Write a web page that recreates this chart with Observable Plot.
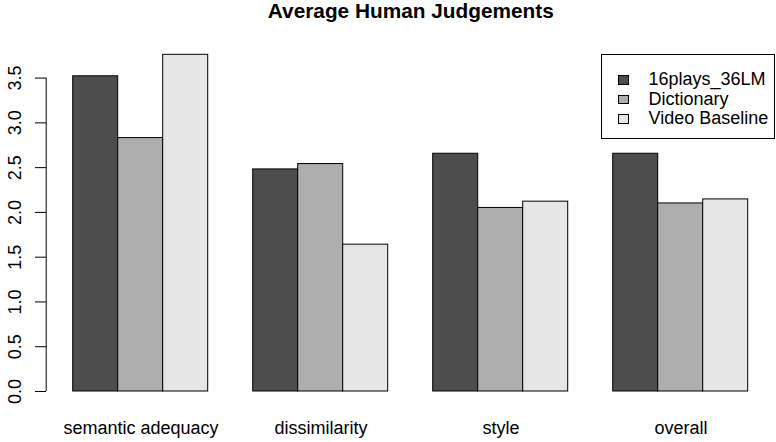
<!DOCTYPE html>
<html>
<head>
<meta charset="utf-8">
<script src="https://cdn.jsdelivr.net/npm/d3@7"></script>
<script src="https://cdn.jsdelivr.net/npm/@observablehq/plot@0.6"></script>
<style>
  html, body { margin: 0; padding: 0; background: #fff; overflow: hidden; }
  #wrap { position: relative; width: 776px; height: 442px; font-family: "Liberation Sans", Arial, Helvetica, sans-serif; color: #000; }
  #title { position: absolute; left: 210.8px; width: 400px; top: 1px; text-align: center; font-weight: bold; font-size: 20.8px; line-height: 1; white-space: nowrap; }
  #chart { position: absolute; left: 0; top: 0; }
  #legend { position: absolute; left: 601px; top: 54px; width: 174px; height: 85px; border: 1px solid #000; box-sizing: border-box; background: #fff; }
  .row { position: absolute; left: 0; height: 19.5px; line-height: 19.5px; font-size: 18px; white-space: nowrap; }
  .sw { position: absolute; left: 16px; top: 5px; width: 11px; height: 9.6px; border: 1px solid #000; box-sizing: border-box; }
  .lab { position: absolute; left: 46.5px; top: 0; }
</style>
</head>
<body>
<div id="wrap">
  <div id="chart"></div>
  <div id="title"></div>
  <div id="legend"></div>
</div>
<script>
// ---- data ----
const title = "Average Human Judgements";
const categories = ["semantic adequacy", "dissimilarity", "style", "overall"];
const series = ["16plays_36LM", "Dictionary", "Video Baseline"];
const lmValues = [3.52, 2.48, 2.655, 2.655];
const dictionaryValues = [2.83, 2.54, 2.05, 2.10];
const videoValues = [3.76, 1.64, 2.12, 2.145];
const yTicks = [0, 0.5, 1, 1.5, 2, 2.5, 3, 3.5];
const grays = ["#4D4D4D", "#AEAEAE", "#E6E6E6"];

// ---- table built from the arrays ----
const valuesBySeries = [lmValues, dictionaryValues, videoValues];
const table = [];
categories.forEach((c, i) => {
  series.forEach((s, j) => table.push({category: c, series: s, value: valuesBySeries[j][i]}));
});

// ---- layout ----
const W = 776, H = 442;
const mL = 46.3, mR = 0.7, mT = 54.3, mB = 51;
const pInner = 0.25, pOuter = 0.15;
const step = (W - mL - mR) / (categories.length - pInner + 2 * pOuter);
const gap = step * pOuter;                 // distance from axis to first bar
const barW = step * (1 - pInner) / series.length;

const chart = Plot.plot({
  width: W,
  height: H,
  marginLeft: mL,
  marginRight: mR,
  marginTop: mT,
  marginBottom: mB,
  style: {fontFamily: '"Liberation Sans", Arial, Helvetica, sans-serif', fontSize: "18px", background: "#fff", color: "#000"},
  fx: {domain: categories, paddingInner: pInner, paddingOuter: pOuter, axis: null, label: null},
  x: {domain: series, padding: 0, axis: null, label: null},
  y: {domain: [0, d3.max(table, d => d.value)], axis: null, label: null},
  color: {domain: series, range: grays},
  marks: [
    Plot.barY(table, {fx: "category", x: "series", y: "value", fill: "series", stroke: "#000", strokeWidth: 1, inset: 0}),
    Plot.ruleX([series[0]], {x: d => d, y1: yTicks[0], y2: yTicks[yTicks.length - 1], stroke: "#000", strokeWidth: 1, dx: -(barW / 2 + gap), facetAnchor: "left"}),
    Plot.axisY(yTicks, {anchor: "left", tickSize: 11, tickPadding: 14.5, tickRotate: -90, textAnchor: "middle", lineAnchor: "bottom",
      tickFormat: d => d.toFixed(1), fontSize: 18, dx: -gap, label: null}),
    Plot.axisFx({anchor: "bottom", tickSize: 0, tickPadding: 30, fontSize: 18, label: null})
  ]
});
document.getElementById("chart").appendChild(chart);
document.getElementById("title").textContent = title;

// ---- legend ----
const color = chart.scale("color");
const rowTops = [16.25, 35.75, 55.25];
const legend = d3.select("#legend");
series.forEach((s, i) => {
  const row = legend.append("div").attr("class", "row").style("top", (rowTops[i] - 1) + "px");
  row.append("div").attr("class", "sw").style("background", color.apply(s));
  row.append("div").attr("class", "lab").text(s);
});
</script>
</body>
</html>
